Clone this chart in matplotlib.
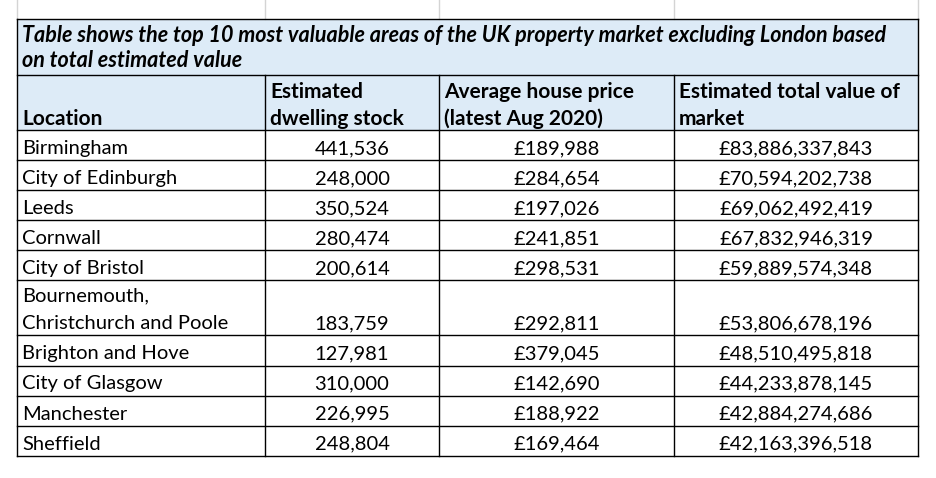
import matplotlib
matplotlib.use("Agg")
import matplotlib.pyplot as plt
from matplotlib.patches import Rectangle

title_lines = [
    "Table shows the top 10 most valuable areas of the UK property market excluding London based",
    "on total estimated value",
]
headers = [
    ["Location"],
    ["Estimated", "dwelling stock"],
    ["Average house price", "(latest Aug 2020)"],
    ["Estimated total value of", "market"],
]
locations = [
    "Birmingham", "City of Edinburgh", "Leeds", "Cornwall", "City of Bristol",
    "Bournemouth,\nChristchurch and Poole", "Brighton and Hove", "City of Glasgow",
    "Manchester", "Sheffield",
]
dwelling_stock = [441536, 248000, 350524, 280474, 200614, 183759, 127981, 310000, 226995, 248804]
avg_price = [189988, 284654, 197026, 241851, 298531, 292811, 379045, 142690, 188922, 169464]
total_value = [83886337843, 70594202738, 69062492419, 67832946319, 59889574348,
               53806678196, 48510495818, 44233878145, 42884274686, 42163396518]

# layout in pixels
W, H = 936, 478
col_x = [17, 265, 439, 674, 918]
title_top, title_bot, head_bot = 19, 75, 130
row_h = [30, 30, 30, 30, 30, 55, 30.5, 30, 30, 30]
fill = "#DDEBF7"
font = "Lato"
fs = 14.5

fig = plt.figure(figsize=(W / 100, H / 100), dpi=100)
ax = fig.add_axes([0, 0, 1, 1])
ax.set_xlim(0, W)
ax.set_ylim(H, 0)
ax.axis("off")

# excel gridlines above the table
for x in col_x:
    ax.plot([x, x], [0, title_top], color="#D4D4D4", lw=1)

ax.add_patch(Rectangle((col_x[0], title_top), col_x[-1] - col_x[0], head_bot - title_top,
                       facecolor=fill, edgecolor="none"))

# title
for i, line in enumerate(title_lines):
    ax.text(col_x[0] + 5, 42 + i * 25, line, fontsize=15.5, family=font, style="italic",
            weight="bold", va="baseline", ha="left")

# headers (bottom aligned)
for c, lines in enumerate(headers):
    n = len(lines)
    for j, line in enumerate(lines):
        ax.text(col_x[c] + 5, head_bot - 5 - (n - 1 - j) * 27, line, fontsize=15, family=font,
                weight="bold", va="baseline", ha="left")

# rows
y = head_bot
row_bounds = [y]
for r in range(len(locations)):
    y0 = y
    y = y0 + row_h[r]
    row_bounds.append(y)
    base = y - 6
    loc_lines = locations[r].split("\n")
    for j, line in enumerate(loc_lines):
        ax.text(col_x[0] + 5, base - (len(loc_lines) - 1 - j) * 28, line, fontsize=fs,
                family=font, va="baseline", ha="left")
    vals = [f"{dwelling_stock[r]:,}", f"£{avg_price[r]:,}", f"£{total_value[r]:,}"]
    for c, v in enumerate(vals, start=1):
        ax.text((col_x[c] + col_x[c + 1]) / 2, base, v, fontsize=fs, family=font,
                va="baseline", ha="center")

# borders
lw = 1.0
ax.plot([col_x[0], col_x[-1]], [title_top, title_top], color="black", lw=lw)
ax.plot([col_x[0], col_x[-1]], [title_bot, title_bot], color="black", lw=lw)
for yb in row_bounds:
    ax.plot([col_x[0], col_x[-1]], [yb, yb], color="black", lw=lw)
ax.plot([col_x[0], col_x[0]], [title_top, row_bounds[-1]], color="black", lw=lw)
ax.plot([col_x[-1], col_x[-1]], [title_top, row_bounds[-1]], color="black", lw=lw)
for x in col_x[1:-1]:
    ax.plot([x, x], [title_bot, row_bounds[-1]], color="black", lw=lw)

fig.savefig("out.png", dpi=100, facecolor="white")
